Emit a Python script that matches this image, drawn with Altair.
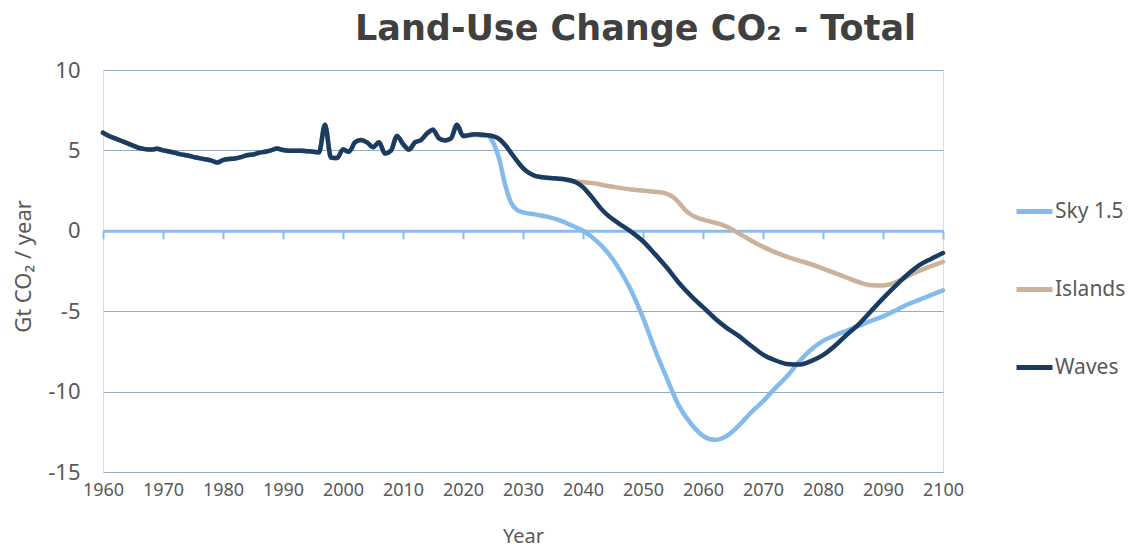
import altair as alt
import pandas as pd

# ---------------- data ----------------
hist_years = list(range(1960, 2021))
hist_values = [
    6.1, 5.9, 5.75, 5.6, 5.45, 5.3, 5.15, 5.08, 5.05, 5.1,      # 1960-1969
    5.0, 4.93, 4.85, 4.75, 4.68, 4.6, 4.52, 4.45, 4.38, 4.25,    # 1970-1979
    4.4, 4.47, 4.5, 4.58, 4.7, 4.75, 4.85, 4.92, 5.0, 5.12,      # 1980-1989
    5.02, 4.98, 4.98, 4.98, 4.95, 4.92, 4.88, 6.6, 4.55, 4.52,   # 1990-1999
    5.05, 4.92, 5.5, 5.65, 5.5, 5.2, 5.5, 4.8, 4.98, 5.9,        # 2000-2009
    5.4, 5.05, 5.5, 5.65, 6.05, 6.28, 5.75, 5.62, 5.75, 6.6,     # 2010-2019
    5.9,                                                         # 2020
]

sky_years = [2021, 2022, 2023, 2024, 2025, 2026, 2027, 2028, 2029, 2030,
             2032, 2034, 2036, 2038, 2040, 2042, 2044, 2046, 2048, 2050,
             2052, 2054, 2056, 2058, 2060, 2062, 2064, 2066, 2068, 2070,
             2072, 2074, 2076, 2078, 2080, 2082, 2084, 2086, 2088, 2090,
             2092, 2094, 2096, 2098, 2100]
sky_values = [5.95, 5.95, 5.93, 5.92, 5.5, 4.5, 2.9, 1.75, 1.3, 1.15,
              1.02, 0.88, 0.66, 0.35, 0.0, -0.55, -1.3, -2.35, -3.7, -5.4,
              -7.4, -9.2, -10.9, -12.0, -12.75, -13.0, -12.75, -12.1, -11.3, -10.6,
              -9.8, -9.05, -8.15, -7.4, -6.85, -6.5, -6.2, -5.9, -5.6, -5.32,
              -4.97, -4.6, -4.3, -4.0, -3.7]

islands_years = [2021, 2022, 2023, 2024, 2025, 2026, 2027, 2028, 2029, 2030,
                 2031, 2032, 2034, 2036, 2038, 2040, 2042, 2044, 2046, 2048,
                 2050, 2052, 2054, 2055, 2056, 2057, 2058, 2059, 2060, 2062,
                 2064, 2066, 2068, 2070, 2072, 2074, 2076, 2078, 2080, 2082,
                 2084, 2086, 2088, 2090, 2092, 2094, 2096, 2098, 2100]
islands_values = [5.95, 6.0, 5.98, 5.95, 5.88, 5.72, 5.35, 4.85, 4.35, 3.9,
                  3.6, 3.42, 3.3, 3.24, 3.1, 3.03, 2.95, 2.8, 2.68, 2.57,
                  2.5, 2.43, 2.3, 2.1, 1.75, 1.3, 1.0, 0.82, 0.7, 0.5,
                  0.25, -0.17, -0.6, -1.0, -1.33, -1.62, -1.85, -2.08, -2.35, -2.63,
                  -2.92, -3.2, -3.38, -3.4, -3.22, -2.85, -2.5, -2.2, -1.93]

waves_years = [2021, 2022, 2023, 2024, 2025, 2026, 2027, 2028, 2029, 2030,
               2031, 2032, 2034, 2036, 2037, 2038, 2039, 2040, 2041, 2042,
               2043, 2044, 2046, 2048, 2050, 2052, 2054, 2056, 2058, 2060,
               2062, 2064, 2066, 2068, 2070, 2072, 2074, 2076, 2078, 2080,
               2082, 2084, 2086, 2088, 2090, 2092, 2094, 2096, 2098, 2100]
waves_values = [5.95, 6.0, 5.98, 5.95, 5.88, 5.72, 5.35, 4.85, 4.35, 3.9,
                3.6, 3.42, 3.3, 3.24, 3.2, 3.13, 2.98, 2.72, 2.3, 1.85,
                1.38, 1.0, 0.45, -0.05, -0.65, -1.45, -2.3, -3.25, -4.05, -4.75,
                -5.45, -6.05, -6.55, -7.15, -7.7, -8.05, -8.28, -8.32, -8.1, -7.73,
                -7.15, -6.45, -5.8, -5.0, -4.2, -3.45, -2.75, -2.15, -1.75, -1.38]

series_names = ["Sky 1.5", "Islands", "Waves"]
series_colors = ["#85BBEA", "#CDB29A", "#1B3C62"]

x_ticks = list(range(1960, 2101, 10))
y_ticks = [-15, -10, -5, 0, 5, 10]

rows = []
for name, yrs, vals in [("Sky 1.5", sky_years, sky_values),
                        ("Islands", islands_years, islands_values),
                        ("Waves", waves_years, waves_values)]:
    for yr, v in zip(hist_years + yrs, hist_values + vals):
        rows.append({"year": yr, "value": v, "scenario": name})
df = pd.DataFrame(rows)

# ---------------- styling ----------------
TXT = "#595959"
GRID = "#94ACC8"
ZERO = "#8DBBEA"
FONT = "Noto Sans"

x_scale = alt.Scale(domain=[1960, 2100], nice=False, zero=False)
y_scale = alt.Scale(domain=[-15, 10], nice=False)

y_axis = alt.Axis(values=y_ticks, grid=True, gridColor=GRID, gridWidth=1,
                  domain=False, ticks=False, tickSize=0,
                  labelExpr="'' + datum.value",
                  labelFontSize=22, labelColor=TXT, labelPadding=23, labelFont=FONT,
                  title="Gt CO₂ / year", titleFontSize=22, titleColor=TXT,
                  titleFontWeight="normal", titleFont=FONT, titleAngle=270,
                  titleX=-80, titleY=196, titleAlign="center", titleBaseline="middle")

zero_axis = alt.Axis(orient="bottom", offset=-241.2, values=x_ticks, labels=False,
                     grid=False, domain=True, domainColor=ZERO, domainWidth=3,
                     ticks=True, tickColor=ZERO, tickWidth=2, tickSize=8, title="")

label_axis = alt.Axis(orient="bottom", values=x_ticks, format="d", grid=False,
                      domain=False, ticks=False, tickSize=0,
                      labelFontSize=18, labelColor=TXT, labelPadding=9, labelFont=FONT,
                      labelOverlap=False, labelFlush=False,
                      title="Year", titleFontSize=20, titleColor=TXT,
                      titleFontWeight="normal", titleFont=FONT,
                      titleY=70, titleBaseline="alphabetic")

legend = alt.Legend(title=None, orient="none", legendX=911, legendY=121,
                    symbolType="stroke", symbolSize=1296, symbolStrokeWidth=5,
                    labelFontSize=21, labelColor=TXT, labelFont=FONT,
                    rowPadding=47, padding=0, labelOffset=0)

color_enc = alt.Color("scenario:N", scale=alt.Scale(domain=series_names, range=series_colors),
                      legend=legend)

base = alt.Chart(df)


def line_layer(name, axis):
    return base.transform_filter(alt.datum.scenario == name).mark_line(
        strokeWidth=4.5, interpolate="monotone", strokeCap="round", strokeJoin="round"
    ).encode(
        x=alt.X("year:Q", scale=x_scale, axis=axis),
        y=alt.Y("value:Q", scale=y_scale, axis=y_axis),
        color=color_enc,
    )


sky = line_layer("Sky 1.5", zero_axis)
islands = line_layer("Islands", label_axis)
waves = line_layer("Waves", None)

chart = alt.layer(sky, islands, waves).resolve_axis(x="independent").properties(
    width=840,
    height=402,
    autosize=alt.AutoSizeParams(type="none"),
    padding={"left": 95, "top": 62, "right": 185, "bottom": 75},
    title=alt.TitleParams("Land-Use Change CO₂ - Total", fontSize=35, fontWeight="bold",
                          color="#404040", font="DejaVu Sans", anchor="start", frame="group",
                          dx=252, offset=12, orient="top"),
).configure_view(stroke=None).configure(font=FONT)

chart.save("out.html", embed_options={"renderer": "svg", "actions": False})
